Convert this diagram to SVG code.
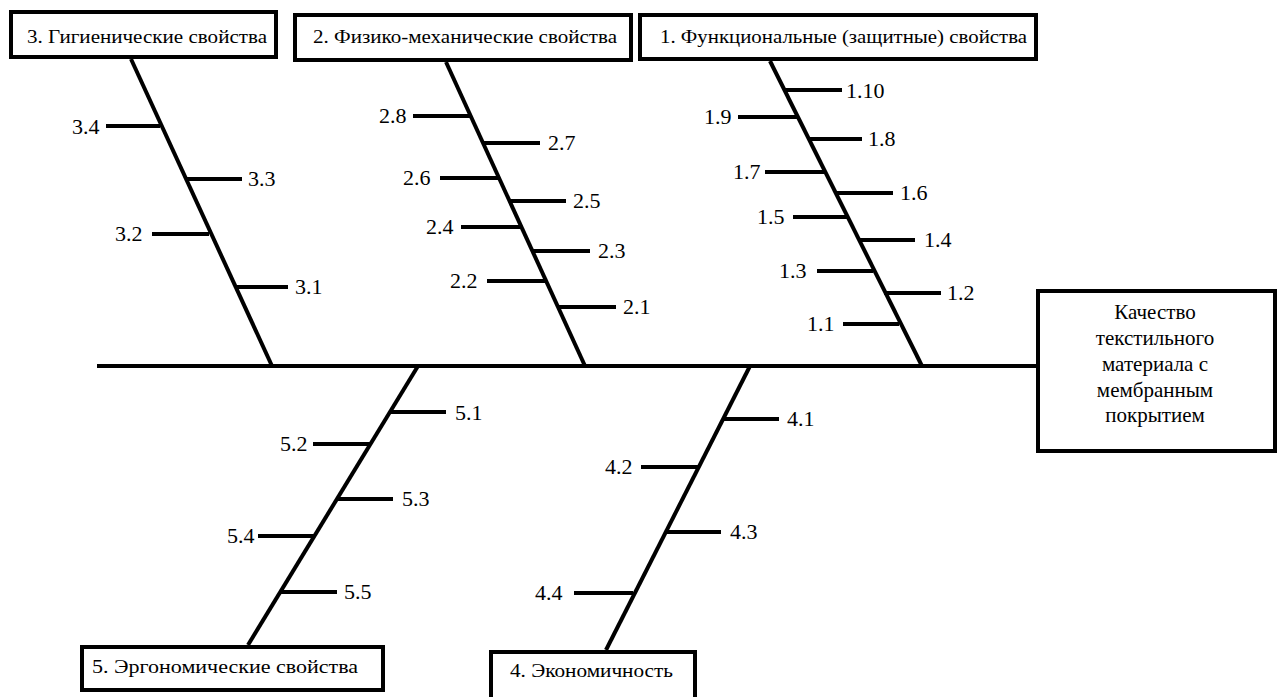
<svg xmlns="http://www.w3.org/2000/svg" width="1279" height="697" viewBox="0 0 1279 697">
<style>
.box{fill:#fff;stroke:#000;stroke-width:4}
.ln{stroke:#000;stroke-width:4;fill:none;stroke-linecap:butt}
.bt{font-size:19px}
.lb{font-size:22px}
.mt{font-size:21px;text-anchor:middle}
</style>
<rect width="1279" height="697" fill="#fff"/>
<g id="connectors">
<line class="ln" x1="97" y1="366" x2="1038" y2="366"/>
<line class="ln" x1="131" y1="59" x2="272" y2="366"/>
<line class="ln" x1="106" y1="126" x2="160" y2="126"/>
<line class="ln" x1="185" y1="179" x2="242" y2="179"/>
<line class="ln" x1="152" y1="234" x2="209" y2="234"/>
<line class="ln" x1="235" y1="287" x2="288" y2="287"/>
<line class="ln" x1="446" y1="62" x2="585" y2="366"/>
<line class="ln" x1="413" y1="116" x2="470" y2="116"/>
<line class="ln" x1="483" y1="143" x2="540" y2="143"/>
<line class="ln" x1="440" y1="178" x2="498" y2="178"/>
<line class="ln" x1="509" y1="201" x2="566" y2="201"/>
<line class="ln" x1="461" y1="227" x2="520" y2="227"/>
<line class="ln" x1="533" y1="251" x2="590" y2="251"/>
<line class="ln" x1="487" y1="281" x2="545" y2="281"/>
<line class="ln" x1="559" y1="307" x2="616" y2="307"/>
<line class="ln" x1="770" y1="61" x2="922" y2="366"/>
<line class="ln" x1="784" y1="90" x2="842" y2="90"/>
<line class="ln" x1="738" y1="117" x2="797" y2="117"/>
<line class="ln" x1="808" y1="139" x2="862" y2="139"/>
<line class="ln" x1="765" y1="172" x2="824" y2="172"/>
<line class="ln" x1="835" y1="193" x2="893" y2="193"/>
<line class="ln" x1="793" y1="217" x2="847" y2="217"/>
<line class="ln" x1="858" y1="240" x2="915" y2="240"/>
<line class="ln" x1="817" y1="271" x2="873" y2="271"/>
<line class="ln" x1="884" y1="293" x2="941" y2="293"/>
<line class="ln" x1="843" y1="324" x2="899" y2="324"/>
<line class="ln" x1="418" y1="366" x2="248" y2="645"/>
<line class="ln" x1="390" y1="412" x2="446" y2="412"/>
<line class="ln" x1="313" y1="444" x2="371" y2="444"/>
<line class="ln" x1="337" y1="499" x2="393" y2="499"/>
<line class="ln" x1="258" y1="536" x2="314" y2="536"/>
<line class="ln" x1="281" y1="592" x2="337" y2="592"/>
<line class="ln" x1="750" y1="366" x2="606" y2="650"/>
<line class="ln" x1="723" y1="419" x2="779" y2="419"/>
<line class="ln" x1="641" y1="467" x2="699" y2="467"/>
<line class="ln" x1="666" y1="532" x2="721" y2="532"/>
<line class="ln" x1="574" y1="593" x2="633" y2="593"/>
</g>
<g id="labels" font-family="Liberation Serif, Times New Roman, Times, DejaVu Serif, serif" fill="#000">
<text class="lb" x="72" y="134">3.4</text>
<text class="lb" x="248" y="186">3.3</text>
<text class="lb" x="115" y="241">3.2</text>
<text class="lb" x="295" y="294">3.1</text>
<text class="lb" x="379" y="123">2.8</text>
<text class="lb" x="548" y="150">2.7</text>
<text class="lb" x="403" y="185">2.6</text>
<text class="lb" x="573" y="208">2.5</text>
<text class="lb" x="426" y="234">2.4</text>
<text class="lb" x="598" y="258">2.3</text>
<text class="lb" x="450" y="288">2.2</text>
<text class="lb" x="623" y="314">2.1</text>
<text class="lb" x="846" y="98">1.10</text>
<text class="lb" x="704" y="124">1.9</text>
<text class="lb" x="868" y="146">1.8</text>
<text class="lb" x="733" y="179">1.7</text>
<text class="lb" x="900" y="200">1.6</text>
<text class="lb" x="757" y="224">1.5</text>
<text class="lb" x="924" y="247">1.4</text>
<text class="lb" x="779" y="278">1.3</text>
<text class="lb" x="947" y="300">1.2</text>
<text class="lb" x="807" y="331">1.1</text>
<text class="lb" x="455" y="420">5.1</text>
<text class="lb" x="280" y="451">5.2</text>
<text class="lb" x="402" y="506">5.3</text>
<text class="lb" x="227" y="543">5.4</text>
<text class="lb" x="344" y="599">5.5</text>
<text class="lb" x="787" y="426">4.1</text>
<text class="lb" x="605" y="474">4.2</text>
<text class="lb" x="730" y="539">4.3</text>
<text class="lb" x="535" y="600">4.4</text>
</g>
<g id="node-3" font-family="Liberation Serif, Times New Roman, Times, DejaVu Serif, serif">
<rect class="box" x="11" y="12" width="265" height="45"/>
<text class="bt" x="27" y="43" textLength="240" lengthAdjust="spacingAndGlyphs">3. Гигиенические свойства</text>
</g>
<g id="node-2" font-family="Liberation Serif, Times New Roman, Times, DejaVu Serif, serif">
<rect class="box" x="295" y="15" width="336" height="45"/>
<text class="bt" x="313" y="43" textLength="304" lengthAdjust="spacingAndGlyphs">2. Физико-механические свойства</text>
</g>
<g id="node-1" font-family="Liberation Serif, Times New Roman, Times, DejaVu Serif, serif">
<rect class="box" x="640" y="15" width="396" height="44"/>
<text class="bt" x="660" y="43" textLength="367" lengthAdjust="spacingAndGlyphs">1. Функциональные (защитные) свойства</text>
</g>
<g id="node-main" font-family="Liberation Serif, Times New Roman, Times, DejaVu Serif, serif">
<rect class="box" x="1038" y="291" width="237" height="160"/>
<text class="mt" x="1155" y="319">Качество</text>
<text class="mt" x="1155" y="345">текстильного</text>
<text class="mt" x="1155" y="371">материала с</text>
<text class="mt" x="1155" y="397">мембранным</text>
<text class="mt" x="1155" y="422">покрытием</text>
</g>
<g id="node-5" font-family="Liberation Serif, Times New Roman, Times, DejaVu Serif, serif">
<rect class="box" x="82" y="647" width="301" height="43"/>
<text class="bt" x="92" y="673" textLength="266" lengthAdjust="spacingAndGlyphs">5. Эргономические свойства</text>
</g>
<g id="node-4" font-family="Liberation Serif, Times New Roman, Times, DejaVu Serif, serif">
<rect class="box" x="491" y="652" width="204" height="47"/>
<text class="bt" x="510" y="677" textLength="163" lengthAdjust="spacingAndGlyphs">4. Экономичность</text>
</g>
</svg>
